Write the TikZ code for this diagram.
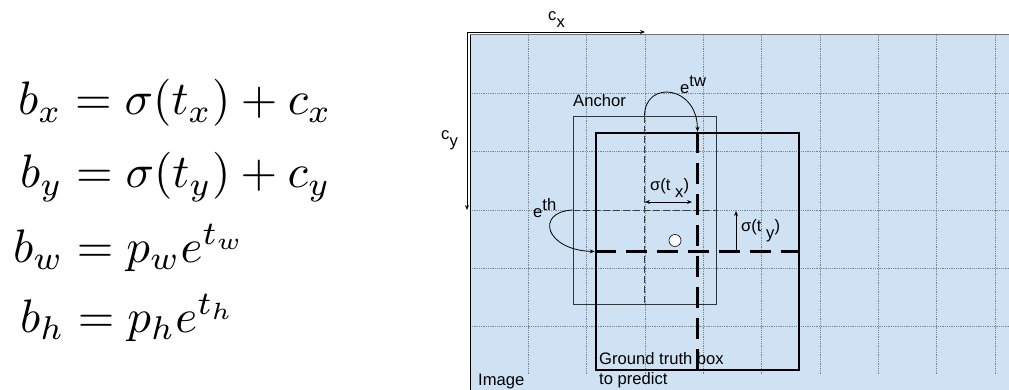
\documentclass[tikz,border=0pt]{standalone}
\usepackage{amsmath}
\usepackage{graphicx}
\usepackage[no-math]{fontspec}
\newfontfamily\ylsans{Liberation Sans}
\usetikzlibrary{arrows.meta,positioning}
\definecolor{ylsky}{HTML}{CFE2F3}
\definecolor{ylgrid}{HTML}{7A8590}
\newcommand{\ylsub}[1]{\raisebox{-0.7ex}{#1}}
\newcommand{\ylsup}[1]{\raisebox{0.8ex}{#1}}
\tikzset{
  ylformula/.style={anchor=base west,inner sep=0pt},
  yltext/.style={font=\ylsans\fontsize{16.6}{20}\selectfont,inner sep=0pt,anchor=base west},
  ylgridline/.style={draw=ylgrid,densely dotted,line width=0.8pt},
  ylanchor/.style={
    rectangle, draw=black!80, line width=0.9pt, inner sep=0pt,
    minimum width=143pt, minimum height=188pt
  },
  yltruth/.style={
    rectangle, draw=black, line width=2.6pt, inner sep=0pt,
    minimum width=203pt, minimum height=237pt
  },
  ylthin/.style={draw=black!75,dash pattern=on 7pt off 3pt,line width=0.8pt},
  ylthick/.style={draw=black,dash pattern=on 21pt off 10pt,line width=2.6pt},
  ylarrow/.style={-{Stealth[length=5pt,width=4pt]},line width=0.8pt},
  ylboth/.style={{Stealth[length=5pt,width=4pt]}-{Stealth[length=5pt,width=4pt]},line width=0.8pt},
  ylcentre/.style={circle,fill=white,draw=black,line width=0.6pt,minimum size=12pt,inner sep=0pt}
}

\begin{document}
\begin{tikzpicture}[x=1pt,y=-1pt]
  \useasboundingbox (0,0) rectangle (1009,390);

  % (a) the four box equations
  \node[ylformula] (bx) at (18,115) {\scalebox{4.7}{$b_x=\sigma(t_x)+c_x$}};
  \node[ylformula] (by) at (20,188) {\scalebox{4.7}{$b_y=\sigma(t_y)+c_y$}};
  \node[ylformula] (bw) at (13,262) {\scalebox{4.7}{$b_w=p_we^{t_w}$}};
  \node[ylformula] (bh) at (20,332) {\scalebox{4.7}{$b_h=p_he^{t_h}$}};

  % (b) the image grid
  \fill[ylsky] (470,35) rectangle (1009,390);
  \foreach \i in {1,...,9}
    \draw[ylgridline] (470+58.33*\i,35) -- (470+58.33*\i,375);
  \foreach \j in {1,...,5}
    \draw[ylgridline] (470,35+58.33*\j) -- (1009,35+58.33*\j);
  \draw[draw=black!55,line width=1pt] (470,35) -- (1009,35);
  \draw[line width=1pt] (470,35) -- (470,390);

  % cell offsets
  \coordinate (corner) at (467,32);
  \coordinate (cxend) at (645,32);
  \coordinate (cyend) at (467,210);
  \draw[ylarrow] (corner) -- (cxend);
  \draw[ylarrow] (corner) -- (cyend);
  \node[yltext] (cxlab) at (548,21) {c\ylsub{x}};
  \node[yltext] (cylab) at (441,140) {c\ylsub{y}};

  % (c) anchor and predicted box
  \node[ylanchor] (anchor) at (644.5,210) {};
  \draw[ylthin] (anchor.north) -- (anchor.south);
  \draw[ylthin] (anchor.west) -- (anchor.east);
  \node[yltruth] (truth) at (697.5,251.5) {};
  \draw[ylthick] (truth.north) -- (truth.south);
  \draw[ylthick] (truth.west) -- (truth.east);
  \node[ylcentre] (centre) at (675,240.5) {};

  \coordinate (txa) at (645,202);
  \coordinate (txb) at (692,202);
  \draw[ylboth] (txa) -- (txb);
  \coordinate (tya) at (736,252);
  \coordinate (tyb) at (736,211);
  \draw[ylarrow] (tya) -- (tyb);

  \draw[ylarrow] (anchor.north) .. controls (645,80) and (697,85) .. (truth.north);
  \draw[ylarrow] (anchor.west) .. controls (535,212) and (545,250) .. (truth.west);

  % labels
  \node[yltext] (anchorlab) at (573,107) {Anchor};
  \node[yltext] (twlab) at (680,94) {e\ylsup{tw}};
  \node[yltext] (thlab) at (533,218) {e\ylsup{th}};
  \node[yltext] (txlab) at (650,191) {σ(t \ylsub{x})};
  \node[yltext] (tylab) at (741,232) {σ(t \ylsub{y})};
  \node[yltext] (imglab) at (478,385) {Image};
  \node[yltext,anchor=north west,align=left] (truthlab) at (599,352) {Ground truth box\\to predict};
\end{tikzpicture}
\end{document}
